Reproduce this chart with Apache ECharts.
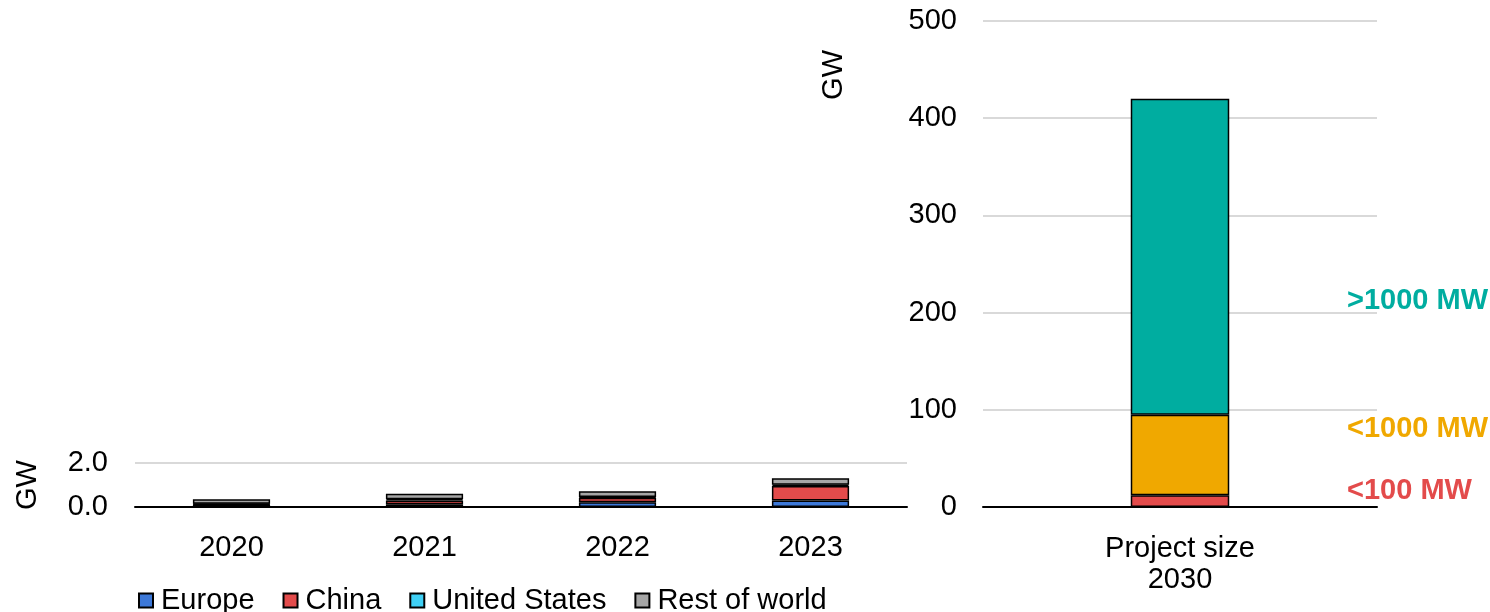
<!DOCTYPE html>
<html>
<head>
<meta charset="utf-8">
<script src="https://cdn.jsdelivr.net/npm/echarts@6/dist/echarts.min.js"></script>
<style>
  html, body { margin: 0; padding: 0; background: #fff; }
  #chart { width: 1490px; height: 612px; }
</style>
</head>
<body>
<div id="chart"></div>
<script>
// Annual capacity by region (GW)
const years = ['2020', '2021', '2022', '2023'];
const europe = [0.10, 0.12, 0.22, 0.30];
const china = [0.03, 0.18, 0.20, 0.66];
const unitedStates = [0.02, 0.05, 0.03, 0.05];
const restOfWorld = [0.20, 0.25, 0.27, 0.30];
const leftTicks = [0, 2];

// Pipeline to 2030 by project size (GW)
const projectCategory = ['Project size\n2030'];
const under100 = [12];
const under1000 = [83];
const over1000 = [325];
const rightTicks = [0, 100, 200, 300, 400, 500];

const FONT = 'Liberation Sans, Arial, sans-serif';
const FS = 29;
const border = { borderColor: '#000', borderWidth: 1.5 };

function regionSeries(name, data, color) {
  return {
    name, type: 'bar', stack: 'region', data,
    xAxisIndex: 0, yAxisIndex: 0, barWidth: '40%',
    itemStyle: Object.assign({ color }, border)
  };
}
function sizeSeries(name, data, color) {
  return {
    name, type: 'bar', stack: 'size', data,
    xAxisIndex: 1, yAxisIndex: 1, barWidth: '25%',
    itemStyle: Object.assign({ color }, border)
  };
}

const chart = echarts.init(document.getElementById('chart'));
chart.setOption({
  animation: false,
  textStyle: { fontFamily: FONT },
  grid: [
    { left: 135, right: 583, top: 463, height: 44 },
    { left: 983, right: 113, top: 21, height: 486 }
  ],
  xAxis: [
    {
      gridIndex: 0, type: 'category', data: years,
      axisLine: { lineStyle: { color: '#000', width: 2 } },
      axisTick: { show: false },
      axisLabel: { color: '#000', fontSize: FS, margin: 26, fontFamily: FONT }
    },
    {
      gridIndex: 1, type: 'category', data: projectCategory,
      axisLine: { lineStyle: { color: '#000', width: 2 } },
      axisTick: { show: false },
      axisLabel: { color: '#000', fontSize: FS, margin: 26, lineHeight: 31, fontFamily: FONT }
    }
  ],
  yAxis: [
    {
      gridIndex: 0, type: 'value',
      min: leftTicks[0], max: leftTicks[leftTicks.length - 1], interval: leftTicks[1] - leftTicks[0],
      name: 'GW', nameLocation: 'middle', nameGap: 93, nameRotate: 90,
      nameTextStyle: { color: '#000', fontSize: FS, fontFamily: FONT },
      axisLine: { show: false }, axisTick: { show: false },
      axisLabel: { color: '#000', fontSize: FS, margin: 27, fontFamily: FONT,
                   formatter: v => v.toFixed(1) },
      splitLine: { lineStyle: { color: '#d9d9d9', width: 2 } }
    },
    {
      gridIndex: 1, type: 'value',
      min: rightTicks[0], max: rightTicks[rightTicks.length - 1], interval: rightTicks[1] - rightTicks[0],
      axisLine: { show: false }, axisTick: { show: false },
      axisLabel: { color: '#000', fontSize: FS, margin: 26, fontFamily: FONT },
      splitLine: { lineStyle: { color: '#d9d9d9', width: 2 } }
    }
  ],
  legend: {
    data: ['Europe', 'China', 'United States', 'Rest of world'],
    left: 133, top: 581,
    icon: 'rect', itemWidth: 14, itemHeight: 14, itemGap: 28,
    textStyle: { color: '#000', fontSize: FS, fontFamily: FONT, padding: [0, 0, 0, 3] }
  },
  graphic: [
    {
      type: 'text', left: 819, top: 50, rotation: Math.PI / 2,
      style: { text: 'GW', fill: '#000', font: FS + 'px ' + FONT }
    },
    {
      type: 'text', left: 1347, top: 286,
      style: { text: '>1000 MW', fill: '#00ada0', font: 'bold ' + FS + 'px ' + FONT }
    },
    {
      type: 'text', left: 1347, top: 414,
      style: { text: '<1000 MW', fill: '#f0a800', font: 'bold ' + FS + 'px ' + FONT }
    },
    {
      type: 'text', left: 1347, top: 476,
      style: { text: '<100 MW', fill: '#e34b4b', font: 'bold ' + FS + 'px ' + FONT }
    }
  ],
  series: [
    regionSeries('Europe', europe, '#3c78d8'),
    regionSeries('China', china, '#e34b4b'),
    regionSeries('United States', unitedStates, '#3fd0f5'),
    regionSeries('Rest of world', restOfWorld, '#a6a6a6'),
    sizeSeries('<100 MW', under100, '#e34b4b'),
    sizeSeries('<1000 MW', under1000, '#f0a800'),
    sizeSeries('>1000 MW', over1000, '#00ada0')
  ]
});
</script>
</body>
</html>
